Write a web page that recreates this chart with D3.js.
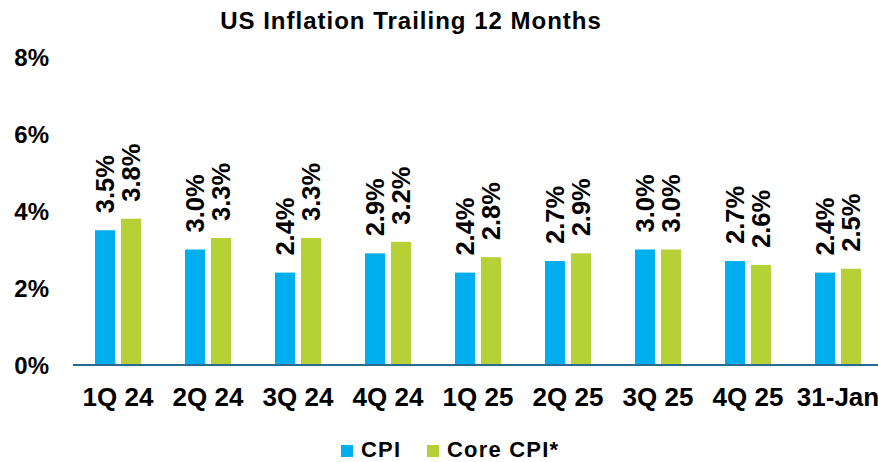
<!DOCTYPE html>
<html>
<head>
<meta charset="utf-8">
<script src="https://cdn.jsdelivr.net/npm/d3@7"></script>
<style>
  body { margin: 0; background: #fff; }
  svg { display: block; font-family: "Liberation Sans", Arial, sans-serif; font-weight: bold; }
</style>
</head>
<body>
<div id="chart"></div>
<script>

// Data

const categories = ["1Q 24", "2Q 24", "3Q 24", "4Q 24", "1Q 25", "2Q 25", "3Q 25", "4Q 25", "31-Jan"];
const seriesNames = ["CPI", "Core CPI*"];
const cpi = [3.5, 3.0, 2.4, 2.9, 2.4, 2.7, 3.0, 2.7, 2.4];
const coreCpi = [3.8, 3.3, 3.3, 3.2, 2.8, 2.9, 3.0, 2.6, 2.5];
const yTicks = [0, 2, 4, 6, 8];

// Configure

const width = 878;
const height = 462;

const colors = {
    "CPI": "#00adef",
    "Core CPI*": "#b5d136",
};

const svg = d3.select("#chart").append("svg")
    .attr("width", width)
    .attr("height", height);

// Scales

const x0 = d3.scaleBand()
    .domain(categories)
    .range([73, 883])
    .padding(0);

const x1 = d3.scaleBand()
    .domain(seriesNames)
    .range([22, 68])
    .paddingInner(0.23);

const y = d3.scaleLinear()
    .domain([0, 8])
    .range([365, 57]);

const rows = categories.map((cat, i) => ({
    cat: cat,
    values: [
        { name: "CPI", value: cpi[i] },
        { name: "Core CPI*", value: coreCpi[i] },
    ],
}));

// Title

svg.append("text")
    .attr("x", 411)
    .attr("y", 21)
    .attr("dy", "0.35em")
    .attr("text-anchor", "middle")
    .attr("font-size", 24)
    .attr("letter-spacing", 1)
    .text("US Inflation Trailing 12 Months");

// Y axis labels

svg.append("g")
    .selectAll("text")
    .data(yTicks)
    .join("text")
    .attr("x", 49)
    .attr("y", d => y(d))
    .attr("dy", "0.36em")
    .attr("text-anchor", "end")
    .attr("font-size", 24)
    .text(d => d + "%");

// Bars

const groups = svg.append("g")
    .selectAll("g")
    .data(rows)
    .join("g")
    .attr("transform", d => "translate(" + x0(d.cat) + ",0)");

groups.selectAll("rect")
    .data(d => d.values)
    .join("rect")
    .attr("x", d => x1(d.name))
    .attr("width", x1.bandwidth())
    .attr("y", d => y(d.value))
    .attr("height", d => y(0) - y(d.value))
    .attr("fill", d => colors[d.name]);

// Value labels

groups.selectAll("text")
    .data(d => d.values)
    .join("text")
    .attr("transform", d => "translate(" + (x1(d.name) + x1.bandwidth() / 2) + "," + (y(d.value) - 17) + ") rotate(-90)")
    .attr("dy", "0.36em")
    .attr("text-anchor", "start")
    .attr("font-size", 25.5)
    .text(d => d.value.toFixed(1) + "%");

// X axis line

svg.append("line")
    .attr("x1", 73)
    .attr("x2", width)
    .attr("y1", y(0))
    .attr("y2", y(0))
    .attr("stroke", "#2a6a91")
    .attr("stroke-width", 2);

// X axis labels

svg.append("g")
    .selectAll("text")
    .data(categories)
    .join("text")
    .attr("x", d => x0(d) + x0.bandwidth() / 2)
    .attr("y", 397)
    .attr("dy", "0.36em")
    .attr("text-anchor", "middle")
    .attr("font-size", 26)
    .text(d => d);

// Legend

const legendItems = [
    { name: "CPI", x: 341 },
    { name: "Core CPI*", x: 427 },
];

const legend = svg.append("g")
    .selectAll("g")
    .data(legendItems)
    .join("g")
    .attr("transform", d => "translate(" + d.x + ",450)");

legend.append("rect")
    .attr("x", 0)
    .attr("y", -5)
    .attr("width", 12)
    .attr("height", 12)
    .attr("fill", d => colors[d.name]);

legend.append("text")
    .attr("x", 20)
    .attr("y", 7)
    .attr("font-size", 22)
    .attr("letter-spacing", 1.2)
    .text(d => d.name);

</script>
</body>
</html>
